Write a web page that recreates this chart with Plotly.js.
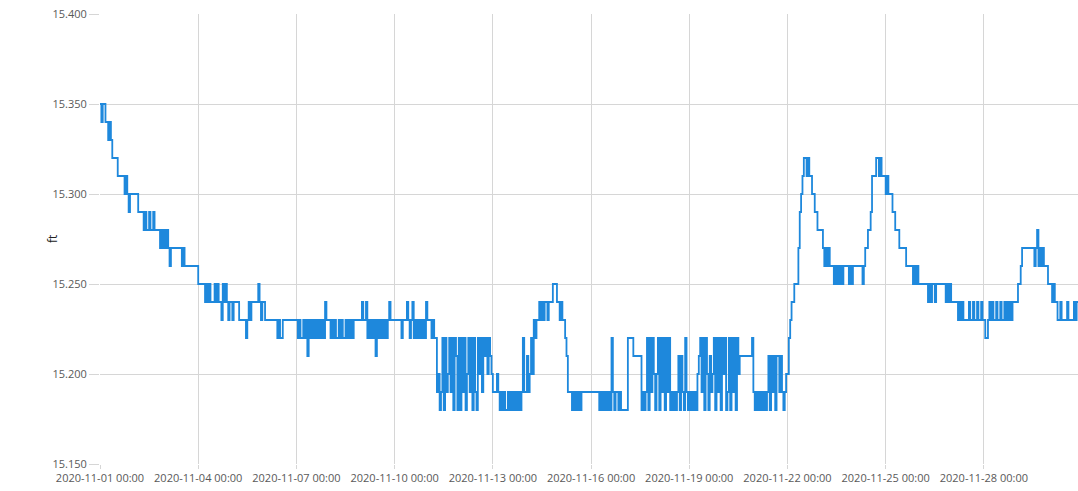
<!DOCTYPE html>
<html>
<head>
<meta charset="utf-8">
<script src="https://cdn.plot.ly/plotly-3.0.1.min.js"></script>
<style>html,body{margin:0;padding:0;background:#fff;}#chart{width:1078px;height:491px;}</style>
</head>
<body>
<div id="chart"></div>
<script>
// Hourly water level readings (ft), one array per day of November 2020, starting 00:00
const nov01 = [15.35,15.34,15.35,15.35,15.34,15.34,15.33,15.34,15.33,15.32,15.32,15.32,15.32,15.31,15.31,15.31,15.31,15.31,15.30,15.31,15.30,15.29,15.30,15.30];
const nov02 = [15.30,15.30,15.30,15.30,15.29,15.29,15.29,15.29,15.28,15.29,15.28,15.28,15.29,15.28,15.28,15.29,15.28,15.28,15.28,15.28,15.27,15.28,15.27,15.28];
const nov03 = [15.27,15.28,15.27,15.26,15.27,15.27,15.27,15.27,15.27,15.27,15.27,15.27,15.26,15.27,15.26,15.26,15.26,15.26,15.26,15.26,15.26,15.26,15.26,15.26];
const nov04 = [15.25,15.25,15.25,15.25,15.25,15.24,15.25,15.24,15.25,15.24,15.24,15.24,15.25,15.24,15.25,15.24,15.24,15.23,15.25,15.24,15.25,15.24,15.23,15.24];
const nov05 = [15.24,15.23,15.24,15.24,15.24,15.24,15.23,15.23,15.23,15.23,15.23,15.22,15.23,15.24,15.23,15.24,15.24,15.24,15.24,15.24,15.25,15.24,15.23,15.24];
const nov06 = [15.24,15.23,15.23,15.23,15.23,15.23,15.23,15.23,15.23,15.23,15.22,15.23,15.22,15.22,15.23,15.23,15.23,15.23,15.23,15.23,15.23,15.23,15.23,15.23];
const nov07 = [15.23,15.22,15.23,15.22,15.22,15.23,15.22,15.23,15.21,15.23,15.22,15.23,15.22,15.23,15.22,15.23,15.22,15.23,15.22,15.23,15.22,15.24,15.23,15.23];
const nov08 = [15.23,15.22,15.23,15.22,15.23,15.22,15.22,15.23,15.22,15.23,15.22,15.22,15.23,15.22,15.23,15.22,15.23,15.22,15.23,15.23,15.23,15.23,15.23,15.23];
const nov09 = [15.24,15.23,15.23,15.24,15.22,15.23,15.22,15.23,15.22,15.23,15.21,15.23,15.22,15.23,15.22,15.23,15.22,15.23,15.22,15.23,15.24,15.23,15.23,15.23];
const nov10 = [15.23,15.23,15.23,15.23,15.23,15.22,15.23,15.23,15.23,15.24,15.23,15.22,15.23,15.24,15.22,15.23,15.22,15.23,15.22,15.23,15.22,15.23,15.22,15.24];
const nov11 = [15.23,15.23,15.23,15.22,15.23,15.22,15.22,15.19,15.20,15.18,15.19,15.22,15.18,15.22,15.19,15.20,15.22,15.19,15.22,15.18,15.22,15.21,15.18,15.22];
const nov12 = [15.18,15.22,15.19,15.22,15.18,15.20,15.22,15.19,15.22,15.18,15.22,15.19,15.18,15.22,15.20,15.22,15.19,15.22,15.21,15.22,15.20,15.22,15.21,15.20];
const nov13 = [15.19,15.19,15.19,15.20,15.19,15.18,15.19,15.18,15.19,15.18,15.18,15.19,15.18,15.19,15.18,15.19,15.18,15.19,15.18,15.19,15.18,15.19,15.22,15.19];
const nov14 = [15.19,15.21,15.19,15.20,15.22,15.20,15.23,15.22,15.23,15.23,15.24,15.23,15.24,15.23,15.24,15.24,15.23,15.24,15.24,15.24,15.25,15.25,15.25,15.24];
const nov15 = [15.24,15.23,15.24,15.23,15.23,15.22,15.21,15.19,15.19,15.19,15.18,15.19,15.18,15.19,15.18,15.19,15.18,15.19,15.19,15.19,15.19,15.19,15.19,15.19];
const nov16 = [15.19,15.19,15.19,15.19,15.19,15.19,15.18,15.19,15.18,15.19,15.18,15.19,15.18,15.19,15.18,15.22,15.19,15.18,15.19,15.19,15.18,15.19,15.18,15.18];
const nov17 = [15.18,15.18,15.18,15.22,15.22,15.22,15.22,15.21,15.21,15.21,15.21,15.21,15.21,15.18,15.19,15.18,15.19,15.22,15.18,15.22,15.19,15.22,15.20,15.18];
const nov18 = [15.20,15.22,15.18,15.22,15.19,15.22,15.18,15.22,15.19,15.22,15.18,15.19,15.18,15.19,15.18,15.19,15.21,15.18,15.21,15.19,15.18,15.22,15.19,15.18];
const nov19 = [15.19,15.18,15.19,15.18,15.19,15.18,15.20,15.21,15.22,15.19,15.22,15.18,15.22,15.20,15.18,15.21,15.19,15.20,15.22,15.18,15.22,15.19,15.22,15.18];
const nov20 = [15.22,15.20,15.22,15.18,15.19,15.22,15.18,15.22,15.19,15.22,15.18,15.22,15.20,15.21,15.21,15.21,15.21,15.21,15.21,15.21,15.21,15.21,15.22,15.19];
const nov21 = [15.18,15.19,15.18,15.19,15.18,15.19,15.18,15.19,15.18,15.19,15.21,15.18,15.21,15.19,15.21,15.18,15.21,15.21,15.19,15.21,15.19,15.18,15.19,15.20];
const nov22 = [15.20,15.22,15.23,15.24,15.24,15.25,15.25,15.25,15.27,15.29,15.30,15.31,15.32,15.32,15.31,15.32,15.31,15.31,15.30,15.30,15.29,15.29,15.28,15.28];
const nov23 = [15.28,15.28,15.27,15.26,15.27,15.26,15.27,15.26,15.26,15.26,15.25,15.26,15.25,15.26,15.25,15.26,15.25,15.26,15.26,15.26,15.26,15.25,15.26,15.25];
const nov24 = [15.26,15.26,15.26,15.26,15.26,15.26,15.26,15.25,15.26,15.27,15.27,15.28,15.28,15.29,15.31,15.31,15.31,15.32,15.32,15.31,15.32,15.31,15.31,15.31];
const nov25 = [15.30,15.31,15.30,15.30,15.30,15.29,15.29,15.28,15.28,15.28,15.27,15.27,15.27,15.27,15.27,15.26,15.26,15.26,15.26,15.26,15.25,15.26,15.25,15.26];
const nov26 = [15.25,15.25,15.25,15.25,15.25,15.25,15.25,15.24,15.25,15.24,15.25,15.25,15.24,15.25,15.25,15.25,15.25,15.25,15.25,15.25,15.24,15.25,15.24,15.25];
const nov27 = [15.24,15.24,15.24,15.24,15.24,15.23,15.24,15.23,15.24,15.23,15.23,15.23,15.23,15.24,15.23,15.23,15.24,15.23,15.23,15.24,15.23,15.23,15.24,15.23];
const nov28 = [15.23,15.22,15.22,15.23,15.24,15.23,15.24,15.23,15.23,15.24,15.23,15.23,15.24,15.23,15.23,15.24,15.23,15.24,15.23,15.24,15.23,15.24,15.24,15.24];
const nov29 = [15.24,15.25,15.25,15.26,15.27,15.27,15.27,15.27,15.27,15.27,15.27,15.27,15.27,15.26,15.27,15.28,15.26,15.27,15.26,15.27,15.26,15.26,15.26,15.25];
const nov30 = [15.25,15.25,15.24,15.25,15.24,15.24,15.23,15.23,15.24,15.23,15.23,15.23,15.23,15.24,15.23,15.23,15.23,15.23,15.24,15.23,15.24,15.24];

const days = [nov01,nov02,nov03,nov04,nov05,nov06,nov07,nov08,nov09,nov10,nov11,nov12,nov13,nov14,nov15,
              nov16,nov17,nov18,nov19,nov20,nov21,nov22,nov23,nov24,nov25,nov26,nov27,nov28,nov29,nov30];

const yTicks = [15.15, 15.20, 15.25, 15.30, 15.35, 15.40];

const pad = n => (n < 10 ? '0' : '') + n;
const xs = [], ys = [];
days.forEach((arr, d) => {
  arr.forEach((v, h) => {
    xs.push('2020-11-' + pad(d + 1) + ' ' + pad(h) + ':00');
    ys.push(v);
  });
});

const fontFam = '"Open Sans", "Liberation Sans", sans-serif';
const trace = {
  x: xs, y: ys, type: 'scatter', mode: 'lines',
  line: {color: '#1e88dc', width: 1.8, shape: 'hv'},
  hoverinfo: 'x+y'
};
const layout = {
  width: 1078, height: 491,
  margin: {l: 100, r: 0, t: 14, b: 27, pad: 0},
  paper_bgcolor: '#ffffff', plot_bgcolor: '#ffffff',
  showlegend: false,
  font: {family: fontFam, size: 11, color: '#595959'},
  xaxis: {
    type: 'date',
    range: ['2020-11-01 00:00', '2020-11-30 21:00'],
    tick0: '2020-11-01', dtick: 3 * 86400000,
    tickformat: '%Y-%m-%d %H:%M',
    showgrid: true, gridcolor: '#d6d6d6', gridwidth: 1,
    zeroline: false, showline: false,
    ticks: 'outside', ticklen: 4, tickcolor: '#d6d6d6',
    tickfont: {family: fontFam, size: 11, color: '#595959'}
  },
  yaxis: {
    range: [15.15, 15.40],
    tickmode: 'array', tickvals: yTicks,
    ticktext: yTicks.map(v => v.toFixed(3)),
    showgrid: true, gridcolor: '#d6d6d6', gridwidth: 1,
    zeroline: false, showline: false,
    ticks: 'outside', ticklen: 10, tickcolor: '#d6d6d6',
    tickfont: {family: fontFam, size: 11, color: '#595959'}
  },
  annotations: [{
    text: 'ft', xref: 'paper', yref: 'paper',
    x: -0.049, y: 0.5, xanchor: 'center', yanchor: 'middle',
    textangle: -90, showarrow: false,
    font: {family: fontFam, size: 12, color: '#222'}
  }]
};
Plotly.newPlot('chart', [trace], layout, {displayModeBar: false, staticPlot: true});
</script>
</body>
</html>
